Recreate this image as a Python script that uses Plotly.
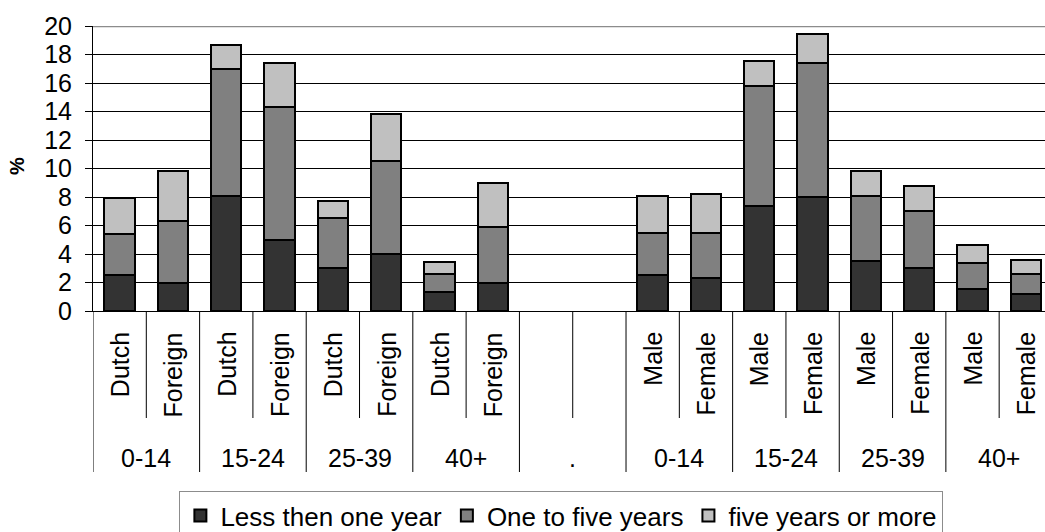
import plotly.graph_objects as go

groups = ["0-14", "0-14", "15-24", "15-24", "25-39", "25-39", "40+", "40+", ".", ".",
          "0-14", "0-14", "15-24", "15-24", "25-39", "25-39", "40+", "40+"]
subs = ["Dutch", "Foreign", "Dutch", "Foreign", "Dutch", "Foreign", "Dutch", "Foreign", "", "",
        "Male", "Female", "Male", "Female", "Male", "Female", "Male", "Female"]

less_one = [2.5, 2.0, 8.1, 5.0, 3.0, 4.0, 1.3, 2.0, None, None,
            2.5, 2.35, 7.4, 8.0, 3.5, 3.05, 1.55, 1.2]
one_five = [2.9, 4.3, 8.9, 9.3, 3.5, 6.5, 1.3, 3.9, None, None,
            3.0, 3.15, 8.4, 9.4, 4.6, 3.95, 1.8, 1.4]
five_more = [2.5, 3.5, 1.7, 3.1, 1.2, 3.3, 0.85, 3.1, None, None,
             2.6, 2.7, 1.75, 2.05, 1.75, 1.75, 1.3, 1.0]

series_names = ["Less then one year", "One to five years", "five years or more"]
series_vals = [less_one, one_five, five_more]
colors = ["#333333", "#808080", "#c0c0c0"]

FONT = "Liberation Sans, Arial, sans-serif"
FS = 25

xs = list(range(len(groups)))

fig = go.Figure()
for name, vals, col in zip(series_names, series_vals, colors):
    fig.add_trace(go.Bar(
        x=xs, y=vals, name=name, width=0.57,
        marker=dict(color=col, line=dict(color="black", width=2)),
    ))

PLOT_TOP, PLOT_BOT = 26, 311
def py(p):
    return (PLOT_BOT - p) / (PLOT_BOT - PLOT_TOP)

annotations = []
shapes = []

for i, s in enumerate(subs):
    if s:
        annotations.append(dict(x=i, y=py(330), xref="x", yref="paper", text=s,
                                textangle=-90, showarrow=False, xanchor="center",
                                yanchor="top", font=dict(family=FONT, size=FS, color="black")))

start = 0
n = len(groups)
for i in range(1, n + 1):
    if i == n or groups[i] != groups[start]:
        center = (start + i - 1) / 2
        annotations.append(dict(x=center, y=py(458), xref="x", yref="paper", text=groups[start],
                                showarrow=False, xanchor="center", yanchor="middle",
                                font=dict(family=FONT, size=FS, color="black")))
        shapes.append(dict(type="line", xref="x", yref="paper", x0=start - 0.5, x1=start - 0.5,
                           y0=0, y1=py(472), line=dict(color="black", width=1)))
        for j in range(start, i - 1):
            shapes.append(dict(type="line", xref="x", yref="paper", x0=j + 0.5, x1=j + 0.5,
                               y0=0, y1=py(418), line=dict(color="black", width=1)))
        start = i
shapes.append(dict(type="line", xref="x", yref="paper", x0=n - 0.5, x1=n - 0.5,
                   y0=0, y1=py(472), line=dict(color="black", width=1)))

shapes.append(dict(type="line", xref="paper", yref="y", x0=0, x1=1, y0=20, y1=20,
                   line=dict(color="#8c8c8c", width=2.5)))

annotations.append(dict(x=(17 - 93) / 952, y=py(166), xref="paper", yref="paper", text="<b>%</b>",
                        textangle=-90, showarrow=False, xanchor="center", yanchor="middle",
                        font=dict(family=FONT, size=20, color="black")))

fig.update_layout(
    width=1045, height=532,
    margin=dict(l=93, r=0, t=PLOT_TOP, b=532 - PLOT_BOT, autoexpand=False),
    barmode="stack",
    plot_bgcolor="white", paper_bgcolor="white",
    font=dict(family=FONT, size=FS, color="black"),
    xaxis=dict(range=[-0.5, 17.36], showticklabels=False, ticks="", showgrid=False,
               zeroline=False, showline=True, linecolor="black", linewidth=1, automargin=False),
    yaxis=dict(range=[0, 20], dtick=2, tick0=0, showgrid=True, gridcolor="black", gridwidth=1,
               zeroline=False, showline=True, linecolor="black", linewidth=1,
               ticks="outside", ticklen=7, tickcolor="black", automargin=False,
               tickfont=dict(family=FONT, size=FS, color="black"), ticklabelstandoff=8),
    legend=dict(orientation="h", x=0.492, xanchor="center", y=py(491), yanchor="top",
                bordercolor="#8c8c8c", borderwidth=1, traceorder="normal",
                font=dict(family=FONT, size=26, color="black"), itemwidth=30),
    annotations=annotations,
    shapes=shapes,
    showlegend=True,
)

fig.write_html("out.html",
               config={"displayModeBar": False},
               post_script="document.body.style.margin='0';document.body.style.overflow='hidden';")
